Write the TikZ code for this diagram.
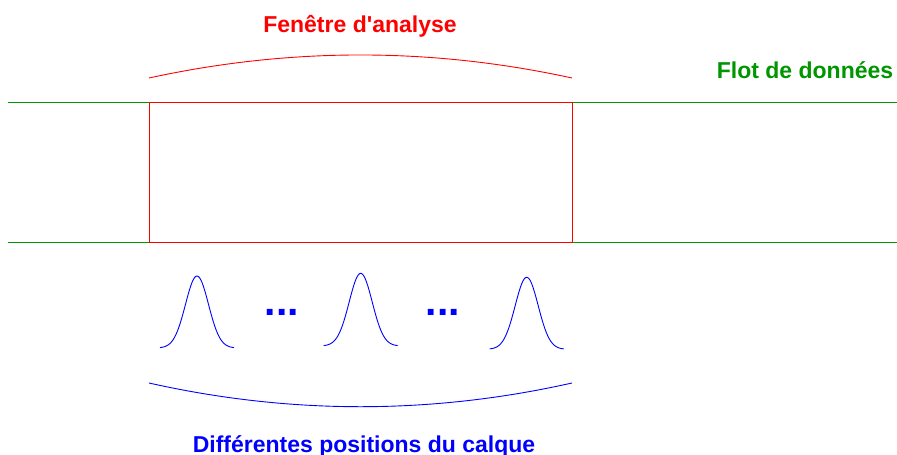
\documentclass[tikz,border=0pt]{standalone}
\usepackage{fontspec}
\setmainfont{Liberation Sans}
\definecolor{flotgreen}{RGB}{0,150,0}
\definecolor{calqueblue}{RGB}{0,0,255}
\definecolor{fenred}{RGB}{255,0,0}
\begin{document}
\begin{tikzpicture}[x=1pt,y=-1pt,
  lbl/.style={font=\fontsize{23}{28}\selectfont\bfseries, anchor=base, inner sep=0pt},
  dots/.style={font=\fontsize{41}{46}\selectfont\bfseries, anchor=base, inner sep=0pt, text=calqueblue},
  gauss/.style={draw=calqueblue, line width=0.9pt},
  thin/.style={line width=0.9pt}]
\useasboundingbox (0,0) rectangle (897,455);
% data flow lines
\coordinate (gl1) at (8,102);
\coordinate (gr1) at (897,102);
\coordinate (gl2) at (8,242);
\coordinate (gr2) at (897,242);
\draw[flotgreen, thin] (gl1) -- (gr1);
\draw[flotgreen, thin] (gl2) -- (gr2);
% analysis window
\coordinate (w1) at (149,102);
\coordinate (w2) at (572,242);
\draw[fenred, thin] (w1) rectangle (w2);
% red arc
\coordinate (ra) at (149,78);
\coordinate (rb) at (572,78);
\draw[fenred, thin] (ra) .. controls (290,47.3) and (431,47.3) .. (rb);
% blue arc
\coordinate (ba) at (149,383);
\coordinate (bb) at (572,383);
\draw[calqueblue, thin] (ba) .. controls (290,414.6) and (431,414.6) .. (bb);
% labels
\node[lbl, text=fenred] (fen) at (360,32.3) {Fenêtre d\textquotesingle analyse};
\node[lbl, text=flotgreen] (flot) at (805,78) {Flot de données};
\node[lbl, text=calqueblue] (calq) at (364,452.5) {Différentes positions du calque};
% gaussians
\draw[gauss] plot[domain=-37:37, samples=80, smooth] ({\x+197}, {348 - 72*exp(-(\x*\x)/(2*11.5*11.5))});
\draw[gauss] plot[domain=-37:37, samples=80, smooth] ({\x+360.7}, {346 - 72.7*exp(-(\x*\x)/(2*11.5*11.5))});
\draw[gauss] plot[domain=-37:37, samples=80, smooth] ({\x+526.7}, {349.3 - 72*exp(-(\x*\x)/(2*11.5*11.5))});
% dots
\node[dots] (d1) at (282,315) {...};
\node[dots] (d2) at (443,315) {...};
\end{tikzpicture}
\end{document}
